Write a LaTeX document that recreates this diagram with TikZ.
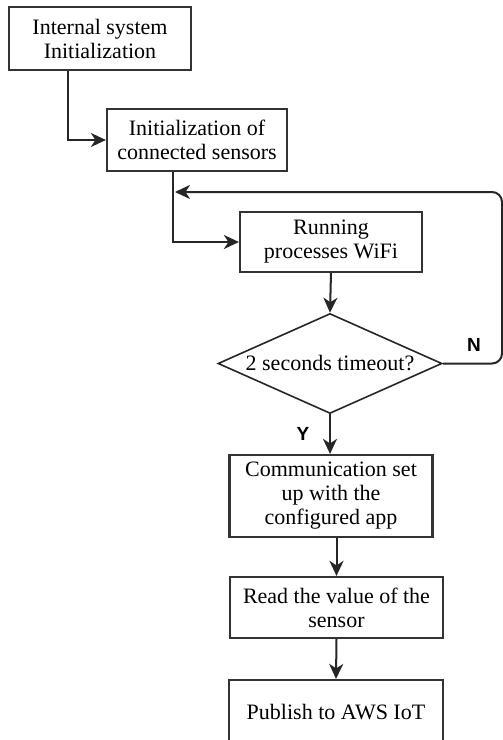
\documentclass[tikz,border=0pt]{standalone}
\usepackage{fontspec}
\setmainfont{Liberation Serif}
\newfontfamily\lblfont{Liberation Sans}
\usetikzlibrary{shapes.geometric,arrows.meta}
\begin{document}
\begin{tikzpicture}[x=1pt,y=-1pt,
  box/.style={draw=black!80, line width=2.2pt, rectangle, fill=white, align=center, inner sep=0pt,
    font=\fontsize{22}{24}\selectfont},
  dec/.style={draw=black!85, line width=1.6pt, diamond, align=center, inner sep=0pt, shape aspect=2.24,
    font=\fontsize{22}{24}\selectfont},
  conn/.style={draw=black!85, line width=2pt, -{Stealth[length=15pt,width=14pt,inset=4.5pt]}},
  lbl/.style={font=\lblfont\bfseries\fontsize{19}{22}\selectfont}
]
\useasboundingbox (0,0) rectangle (503,740);
\fill[white] (0,0) rectangle (503,740);
\node[box, minimum width=182pt, minimum height=63pt] (b1) at (100,38.5) {Internal system\\Initialization};
\node[box, minimum width=180pt, minimum height=62pt] (b2) at (197,140) {Initialization of\\connected sensors};
\node[box, minimum width=182pt, minimum height=60pt] (b3) at (331,242) {Running\\processes WiFi};
\node[dec, minimum width=224pt, minimum height=100pt] (d) at (330,363.5) {2 seconds timeout?};
\node[box, minimum width=203pt, minimum height=82pt] (b4) at (331,496) {Communication set\\up with the\\configured app};
\node[box, minimum width=213pt, minimum height=61pt] (b5) at (336.5,607.5) {Read the value of the\\sensor};
\node[box, minimum width=214pt, minimum height=64pt] (b6) at (336,712) {Publish to AWS IoT};
\node[lbl] (n) at (474,345) {N};
\node[lbl] (y) at (303,434) {Y};
\coordinate (loopend) at (175,192);
\draw[conn] ([xshift=60pt]b1.south west) |- (b2.west);
\draw[conn] ([xshift=67pt]b2.south west) |- (b3.west);
\draw[conn] (b3.south) -- (d.north);
\draw[conn, rounded corners=10pt] (d.east) -- (502,363.5) |- (loopend);
\draw[conn] (d.south) -- (d.south |- b4.north);
\draw[conn] (b5.north |- b4.south) -- (b5.north);
\draw[conn] (b5.south) -- (b6.north);
\end{tikzpicture}
\end{document}
